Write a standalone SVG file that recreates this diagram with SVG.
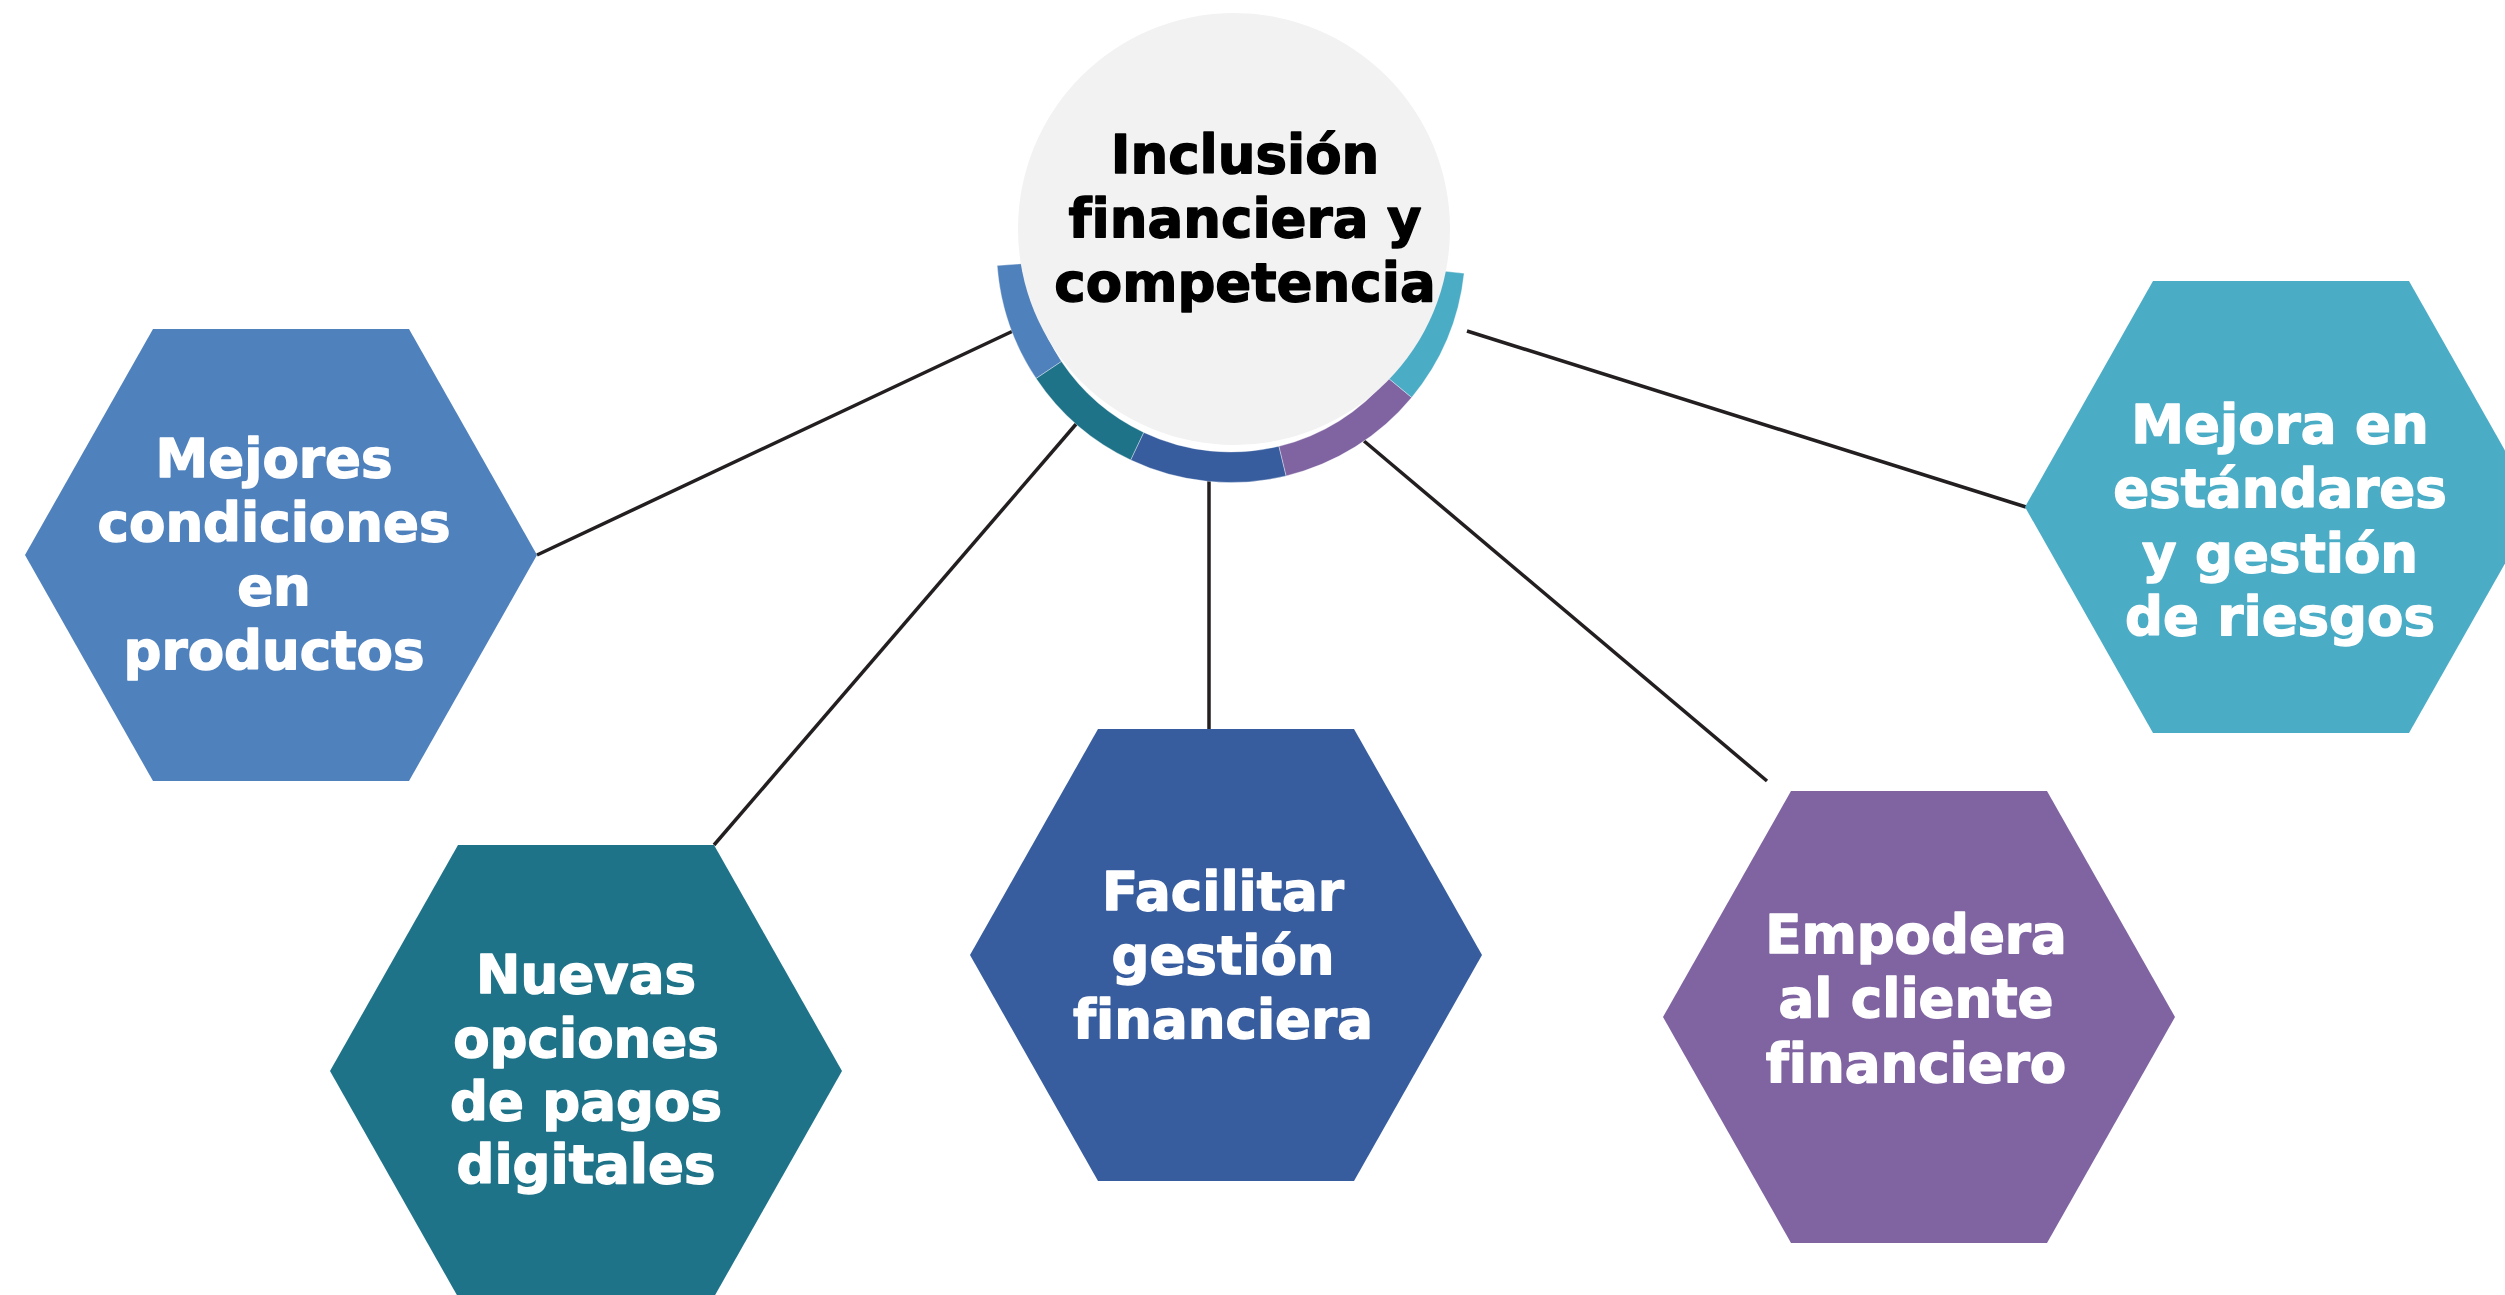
<svg xmlns="http://www.w3.org/2000/svg" width="2505" height="1295" viewBox="0 0 2505 1295">
<style>
.t{font-family:"DejaVu Sans",Verdana,sans-serif;font-weight:bold;font-size:53px;text-anchor:middle;stroke-width:1.4;stroke-linejoin:round;font-variant-ligatures:none;font-feature-settings:"liga" 0}
.w{fill:#FFFFFF;stroke:#FFFFFF}
.k{fill:#000000;stroke:#000000}
.c{stroke:#231F20;stroke-width:3.5;fill:none}
.seg{stroke:#FFFFFF;stroke-width:0.6;stroke-opacity:0.6}
</style>
<rect width="2505" height="1295" fill="#FFFFFF"/>
<g id="connectors">
<line class="c" x1="1013" y1="331" x2="537" y2="555"/>
<line class="c" x1="1077" y1="423" x2="714" y2="845"/>
<line class="c" x1="1209" y1="470" x2="1209" y2="729"/>
<line class="c" x1="1364" y1="441" x2="1767" y2="781"/>
<line class="c" x1="1467" y1="331" x2="2026" y2="507"/>
</g>
<g id="ring">
<path class="seg" fill="#4F81BD" d="M997.16,265.58 A234.5,234.5 0 0 0 1036.14,378.45 L1061.48,361.49 A204,204 0 0 1 1027.57,263.30 Z"/>
<path class="seg" fill="#1F7389" d="M1036.14,378.45 A234.5,234.5 0 0 0 1130.78,460.01 L1143.82,432.43 A204,204 0 0 1 1061.48,361.49 Z"/>
<path class="seg" fill="#375D9F" d="M1130.78,460.01 A234.5,234.5 0 0 0 1286.14,475.92 L1278.97,446.28 A204,204 0 0 1 1143.82,432.43 Z"/>
<path class="seg" fill="#8064A2" d="M1286.14,475.92 A234.5,234.5 0 0 0 1411.69,397.48 L1388.18,378.03 A204,204 0 0 1 1278.97,446.28 Z"/>
<path class="seg" fill="#4BACC6" d="M1411.69,397.48 A234.5,234.5 0 0 0 1464.13,273.33 L1433.81,270.03 A204,204 0 0 1 1388.18,378.03 Z"/>
</g>
<g id="center">
<circle cx="1234" cy="229" r="216" fill="#F2F2F2"/>
<text class="t k" x="1245" y="173">Inclusión</text>
<text class="t k" x="1245" y="237">financiera y</text>
<text class="t k" x="1245" y="301">competencia</text>
</g>
<g id="node-mejores">
<polygon fill="#4F81BD" points="25,555 153,329 409,329 537,555 409,781 153,781"/>
<text class="t w" x="274" y="477">Mejores</text>
<text class="t w" x="274" y="541">condiciones</text>
<text class="t w" x="274" y="605">en</text>
<text class="t w" x="274" y="669">productos</text>
</g>
<g id="node-nuevas">
<polygon fill="#1F7389" points="330,1071 458,845 714,845 842,1071 714,1297 458,1297"/>
<text class="t w" x="586" y="993">Nuevas</text>
<text class="t w" x="586" y="1057">opciones</text>
<text class="t w" x="586" y="1120">de pagos</text>
<text class="t w" x="586" y="1183">digitales</text>
</g>
<g id="node-facilitar">
<polygon fill="#375D9F" points="970,955 1098,729 1354,729 1482,955 1354,1181 1098,1181"/>
<text class="t w" x="1223" y="910">Facilitar</text>
<text class="t w" x="1223" y="974">gestión</text>
<text class="t w" x="1223" y="1038">financiera</text>
</g>
<g id="node-empodera">
<polygon fill="#8064A2" points="1663,1017 1791,791 2047,791 2175,1017 2047,1243 1791,1243"/>
<text class="t w" x="1916" y="953">Empodera</text>
<text class="t w" x="1916" y="1017">al cliente</text>
<text class="t w" x="1916" y="1082">financiero</text>
</g>
<g id="node-mejora">
<polygon fill="#4BACC6" points="2025,507 2153,281 2409,281 2537,507 2409,733 2153,733"/>
<text class="t w" x="2280" y="443">Mejora en</text>
<text class="t w" x="2280" y="507">estándares</text>
<text class="t w" x="2280" y="572">y gestión</text>
<text class="t w" x="2280" y="635">de riesgos</text>
</g>
</svg>
